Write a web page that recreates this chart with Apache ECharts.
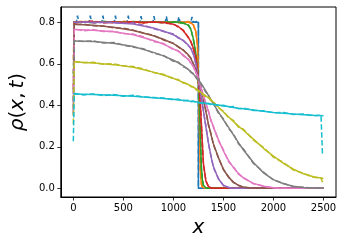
<!DOCTYPE html>
<html>
<head>
<meta charset="utf-8">
<script src="https://cdn.jsdelivr.net/npm/echarts@6/dist/echarts.min.js"></script>
<style>
html,body{margin:0;padding:0;background:#fff;}
#chart{width:343px;height:244px;}
</style>
</head>
<body>
<div id="chart"></div>
<script>
// ---- data ----
const xTicks = [0, 500, 1000, 1500, 2000, 2500];
const yTicks = [0, 0.2, 0.4, 0.6, 0.8];
const colors = ['#1f77b4','#ff7f0e','#2ca02c','#d62728','#9467bd','#8c564b','#e377c2','#7f7f7f','#bcbd22','#17becf'];

// model (solid) curves
const blueX = [0, 1250, 1250, 2500];
const blueY = [0.8, 0.8, 0, 0];
const modelX = [0,200,400,600,800,900,1000,1050,1100,1150,1175,1200,1225,1240,1250,1260,1270,1280,1290,1300,1325,1350,1375,1400,1450,1500,1550,1600,1650,1700,1800,1900,2000,2100,2200,2300,2400,2500];
const orangeY = [0.8,0.8,0.8,0.8,0.8,0.8,0.8,0.8,0.8,0.8,0.797,0.787,0.755,0.69,0.53,0.3,0.08,0.02,0.005,0,0,0,0,0,0,0,0,0,0,0,0,0,0,0,0,0,0,0];
const greenY = [0.8,0.8,0.8,0.8,0.8,0.8,0.8,0.8,0.797,0.785,0.765,0.72,0.645,0.585,0.52,0.4,0.25,0.1,0.04,0.015,0.003,0,0,0,0,0,0,0,0,0,0,0,0,0,0,0,0,0];
const redY = [0.8,0.8,0.8,0.8,0.8,0.8,0.79,0.78,0.758,0.728,0.705,0.675,0.625,0.575,0.52,0.465,0.4,0.31,0.21,0.12,0.035,0.01,0.002,0,0,0,0,0,0,0,0,0,0,0,0,0,0,0];
const purpleY = [0.8,0.8,0.798,0.792,0.772,0.758,0.74,0.727,0.71,0.69,0.672,0.648,0.597,0.557,0.525,0.495,0.465,0.435,0.405,0.375,0.295,0.22,0.155,0.105,0.045,0.015,0.004,0.001,0,0,0,0,0,0,0,0,0,0];
const brownY = [0.79,0.786,0.776,0.76,0.735,0.718,0.697,0.683,0.665,0.643,0.625,0.6,0.57,0.548,0.53,0.51,0.49,0.47,0.45,0.43,0.37,0.31,0.26,0.215,0.148,0.092,0.054,0.03,0.014,0.006,0.001,0,0,0,0,0,0,0];
const pinkY = [0.765,0.762,0.754,0.74,0.712,0.695,0.672,0.66,0.642,0.62,0.605,0.585,0.56,0.54,0.525,0.51,0.495,0.48,0.465,0.45,0.41,0.37,0.33,0.295,0.235,0.18,0.135,0.1,0.072,0.05,0.024,0.01,0.003,0.001,0,0,0,0];
const grayY = [0.71,0.707,0.699,0.683,0.655,0.638,0.617,0.605,0.59,0.572,0.562,0.55,0.538,0.53,0.523,0.516,0.51,0.503,0.496,0.488,0.468,0.448,0.427,0.407,0.368,0.33,0.295,0.258,0.22,0.185,0.125,0.075,0.042,0.022,0.01,0.004,0.002,0.001];
const oliveY = [0.61,0.604,0.596,0.583,0.56,0.546,0.53,0.52,0.51,0.5,0.494,0.487,0.48,0.475,0.472,0.468,0.465,0.461,0.457,0.453,0.445,0.436,0.427,0.415,0.392,0.368,0.345,0.322,0.3,0.28,0.237,0.193,0.155,0.12,0.092,0.07,0.056,0.048];
const cyanY = [0.455,0.452,0.449,0.444,0.437,0.433,0.429,0.426,0.424,0.421,0.42,0.418,0.417,0.416,0.415,0.414,0.413,0.413,0.412,0.411,0.41,0.408,0.406,0.404,0.401,0.397,0.394,0.39,0.386,0.383,0.377,0.371,0.366,0.362,0.358,0.355,0.352,0.35];

// simulation (dashed) curves
const blueSimX = [0,30,42,54,158,170,182,284,296,308,409,421,433,537,549,561,665,677,689,794,806,818,918,930,942,1043,1055,1067,1174,1186,1198,1250,1250,2490];
const blueSimY = [0.8,0.8,0.832,0.8,0.8,0.832,0.8,0.8,0.832,0.8,0.8,0.832,0.8,0.8,0.832,0.8,0.8,0.83,0.8,0.8,0.83,0.8,0.8,0.828,0.8,0.8,0.826,0.8,0.8,0.826,0.8,0.805,0,0];
const simX = [0,10,100,200,300,400,500,600,700,800,900,1000,1050,1100,1150,1175,1200,1225,1240,1250,1260,1270,1280,1290,1300,1325,1350,1375,1400,1450,1500,1550,1600,1650,1700,1800,1900,2000,2100,2200,2300,2400,2475,2490];
const orangeSim = [0.62,0.8,0.806,0.798,0.803,0.797,0.805,0.8,0.796,0.804,0.799,0.803,0.797,0.801,0.804,0.795,0.788,0.75,0.695,0.52,0.31,0.085,0.02,0.006,0,0,0,0,0,0,0,0,0,0,0,0,0,0,0,0,0,0,0,0];
const greenSim = [0.55,0.798,0.803,0.797,0.805,0.8,0.796,0.804,0.799,0.802,0.797,0.803,0.798,0.795,0.787,0.768,0.715,0.648,0.58,0.525,0.39,0.255,0.095,0.045,0.013,0.002,0,0,0,0,0,0,0,0,0,0,0,0,0,0,0,0,0,0];
const redSim = [0.48,0.796,0.802,0.806,0.797,0.801,0.798,0.804,0.796,0.802,0.797,0.792,0.776,0.762,0.725,0.708,0.67,0.63,0.57,0.522,0.46,0.405,0.305,0.215,0.115,0.038,0.008,0.003,0,0,0,0,0,0,0,0,0,0,0,0,0,0,0,0];
const purpleSim = [0.42,0.796,0.803,0.797,0.801,0.8,0.795,0.797,0.786,0.77,0.755,0.744,0.724,0.713,0.687,0.675,0.645,0.6,0.553,0.528,0.49,0.468,0.43,0.408,0.37,0.3,0.215,0.16,0.1,0.048,0.013,0.005,0,0,0,0,0,0,0,0,0,0,0,0];
const brownSim = [0.38,0.788,0.791,0.783,0.782,0.774,0.771,0.762,0.748,0.738,0.715,0.699,0.68,0.667,0.64,0.628,0.598,0.572,0.545,0.533,0.505,0.493,0.466,0.452,0.425,0.375,0.305,0.265,0.21,0.148,0.09,0.057,0.028,0.015,0.005,0.001,0,0,0,0,0,0,0,0];
const pinkSim = [0.36,0.768,0.759,0.764,0.755,0.757,0.746,0.743,0.73,0.708,0.698,0.668,0.663,0.638,0.623,0.6,0.588,0.556,0.543,0.52,0.513,0.49,0.484,0.46,0.455,0.405,0.375,0.325,0.298,0.23,0.185,0.13,0.104,0.068,0.052,0.022,0.011,0.002,0,0,0,0,0,0];
const graySim = [0.35,0.712,0.708,0.71,0.7,0.703,0.69,0.68,0.673,0.652,0.64,0.612,0.608,0.585,0.575,0.558,0.553,0.534,0.533,0.518,0.52,0.506,0.507,0.49,0.492,0.463,0.452,0.42,0.41,0.362,0.335,0.29,0.262,0.215,0.19,0.12,0.079,0.04,0.024,0.008,0.005,0.001,0.001,0];
const oliveSim = [0.31,0.612,0.605,0.607,0.598,0.6,0.59,0.587,0.575,0.558,0.55,0.527,0.524,0.507,0.503,0.49,0.49,0.476,0.478,0.468,0.47,0.461,0.465,0.453,0.456,0.44,0.44,0.422,0.418,0.388,0.372,0.34,0.327,0.295,0.285,0.232,0.198,0.15,0.125,0.088,0.073,0.053,0.05,0.03];
const cyanSim = [0.227,0.458,0.45,0.455,0.447,0.452,0.444,0.448,0.44,0.438,0.435,0.427,0.43,0.422,0.424,0.417,0.421,0.414,0.418,0.412,0.416,0.411,0.414,0.41,0.413,0.407,0.41,0.404,0.407,0.399,0.4,0.392,0.394,0.384,0.386,0.375,0.374,0.364,0.366,0.356,0.358,0.35,0.352,0.162];

// ---- build ----
const zip = (xs, ys) => xs.map((x, i) => [x, ys[i]]);
const sims = [zip(blueSimX, blueSimY), zip(simX, orangeSim), zip(simX, greenSim), zip(simX, redSim), zip(simX, purpleSim), zip(simX, brownSim), zip(simX, pinkSim), zip(simX, graySim), zip(simX, oliveSim), zip(simX, cyanSim)];
const models = [zip(blueX, blueY), zip(modelX, orangeY), zip(modelX, greenY), zip(modelX, redY), zip(modelX, purpleY), zip(modelX, brownY), zip(modelX, pinkY), zip(modelX, grayY), zip(modelX, oliveY), zip(modelX, cyanY)];

const series = [];
for (let i = 0; i < 10; i++) {
  series.push({type:'line', data: sims[i], showSymbol:false, symbol:'none', silent:true,
    lineStyle:{color:colors[i], width:1.5, type:[5.5,2.4]}});
  series.push({type:'line', data: models[i], showSymbol:false, symbol:'none', silent:true,
    lineStyle:{color:colors[i], width:1.5}});
}

const font = 'DejaVu Sans';
const chart = echarts.init(document.getElementById('chart'), null, {renderer:'canvas'});
chart.setOption({
  animation:false,
  backgroundColor:'#fff',
  grid:{left:57, right:7, top:7, bottom:47, show:true, borderColor:'#000', borderWidth:1, backgroundColor:'transparent'},
  xAxis:{type:'value', min:-125, max:2625,
    axisLine:{show:true, onZero:false, lineStyle:{color:'#000', width:1}},
    axisTick:{show:true, customValues:xTicks, length:3.5, lineStyle:{color:'#000', width:0.8}},
    axisLabel:{customValues:xTicks, margin:6, fontSize:10, color:'#000', fontFamily:font,
      formatter: v => String(Math.round(v))},
    splitLine:{show:false},
    name:'x', nameLocation:'middle', nameGap:20,
    nameTextStyle:{fontSize:20, fontStyle:'italic', fontFamily:font, color:'#000'}},
  yAxis:{type:'value', min:-0.0416, max:0.8736,
    axisLine:{show:true, onZero:false, lineStyle:{color:'#000', width:1}},
    axisTick:{show:true, customValues:yTicks, length:3.5, lineStyle:{color:'#000', width:0.8}},
    axisLabel:{customValues:yTicks, margin:6, fontSize:10, color:'#000', fontFamily:font,
      formatter: v => v.toFixed(1)},
    splitLine:{show:false},
    name:'{i|ρ}{n|(}{i|x}{n|,\u2009}{i|t}{n|)}', nameLocation:'middle', nameGap:30, nameRotate:90,
    nameTextStyle:{fontSize:20, color:'#000', fontFamily:font,
      rich:{i:{fontSize:20, fontStyle:'italic', fontFamily:font, color:'#000'},
            n:{fontSize:20, fontFamily:font, color:'#000'}}}},
  series: series
});
</script>
</body>
</html>
